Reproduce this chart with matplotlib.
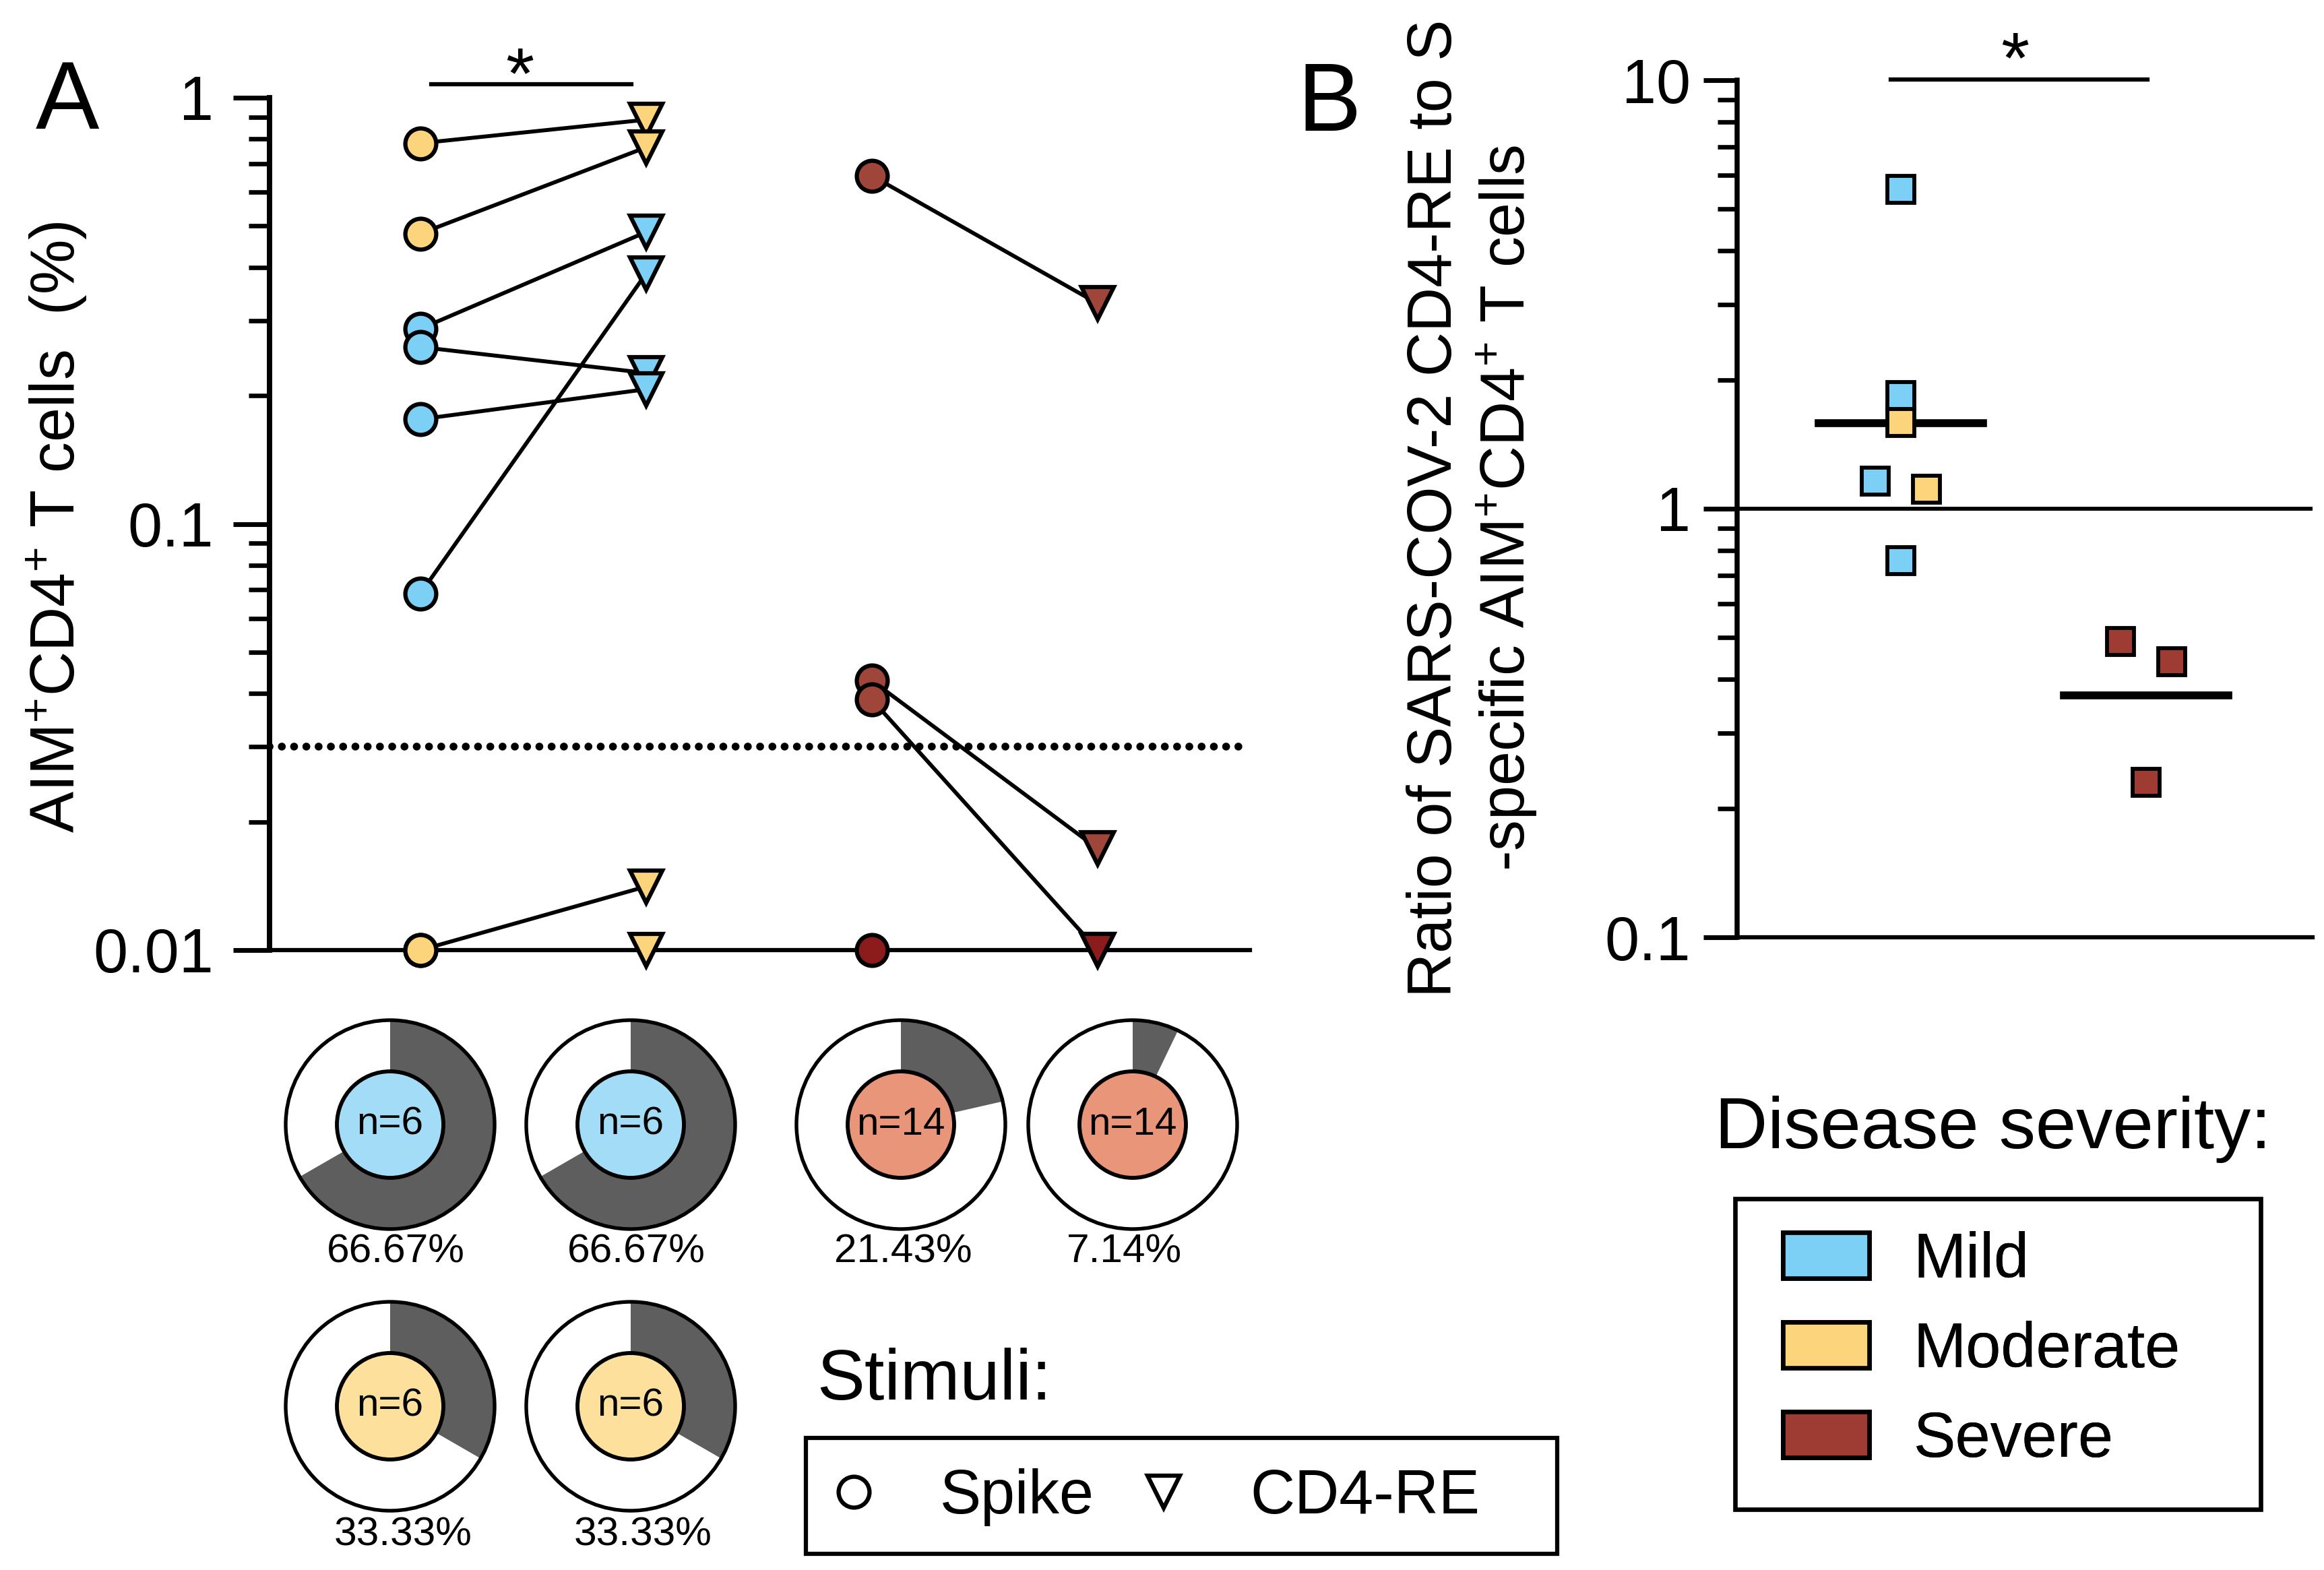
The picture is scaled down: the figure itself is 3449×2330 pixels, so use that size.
import numpy as np
import matplotlib
matplotlib.use('Agg')
import matplotlib.pyplot as plt
from matplotlib.patches import Wedge, Circle, Rectangle, Patch
from matplotlib.lines import Line2D
from matplotlib.ticker import NullFormatter, LogLocator

plt.rcParams['font.family'] = ['Liberation Sans', 'DejaVu Sans']
plt.rcParams['mathtext.fontset'] = 'custom'
plt.rcParams['mathtext.rm'] = 'Liberation Sans'
plt.rcParams['mathtext.it'] = 'Liberation Sans:italic'
plt.rcParams['mathtext.bf'] = 'Liberation Sans:bold'

# ---------------- data ----------------
stimuli = ['Spike', 'CD4-RE']
severity = ['Mild', 'Moderate', 'Severe']

# Panel A: AIM+CD4+ T cells (%), paired Spike -> CD4-RE
mild_spike = [0.287, 0.260, 0.176, 0.0687]
mild_cd4re = [0.484, 0.226, 0.207, 0.387]
mod_spike = [0.782, 0.480, 0.01, 0.01]
mod_cd4re = [0.888, 0.765, 0.0141, 0.01]
sev_spike = [0.656, 0.0429, 0.0387, 0.01]
sev_cd4re = [0.329, 0.0173, 0.01, 0.01]
detection_limit = 0.03
floor_value = 0.01

# Donut summaries (% responders)
donut_pct = [66.67, 66.67, 21.43, 7.14, 33.33, 33.33]
donut_n = [6, 6, 14, 14, 6, 6]
donut_group = ['Mild', 'Mild', 'Severe', 'Severe', 'Moderate', 'Moderate']

# Panel B: ratio CD4-RE / Spike
ratio_mild = [5.57, 1.84, 1.16, 0.757]
ratio_mod = [1.59, 1.11]
ratio_sev = [0.490, 0.440, 0.230]
jit_mild = [0.0, 0.0, -0.104, 0.0]
jit_mod = [0.0, 0.104]
jit_sev = [-0.104, 0.104, 0.0]

# ---------------- style ----------------
C_MILD = '#7DD0F5'
C_MOD = '#FCD47B'
C_SEV = '#9E3B33'
C_SEV_A = '#A0453A'
C_SEV_FLOOR = '#8C1B1B'
C_GREY = '#5E5E5E'
INNER = {'Mild': '#A3DCF6', 'Moderate': '#FDE09C', 'Severe': '#E8957A'}

W, H = 3449, 2330
fig = plt.figure(figsize=(W / 300, H / 300), dpi=300)


def fx(px):
    return px / W


def fy(py):
    return 1 - py / H


# ---------------- Panel A ----------------
axA = fig.add_axes([fx(400), fy(1410), fx(1855) - fx(400), fy(145) - fy(1410)])
axA.set_yscale('log')
axA.set_ylim(0.01, 1)
x0, unit = 624, 335
axA.set_xlim((400 - x0) / unit, (1855 - x0) / unit)

mk = dict(ls='none', mec='black', mew=1.5, zorder=4, clip_on=False)
line_kw = dict(color='black', lw=1.4, zorder=3, clip_on=False)

for s, c in zip(mild_spike, mild_cd4re):
    axA.plot([0, 1], [s, c], **line_kw)
for s, c in zip(mod_spike, mod_cd4re):
    axA.plot([0, 1], [s, c], **line_kw)
for s, c in zip(sev_spike, sev_cd4re):
    axA.plot([2, 3], [s, c], **line_kw)

axA.plot(np.zeros(len(mod_spike)), mod_spike, 'o', ms=11, mfc=C_MOD, **mk)
axA.plot(np.zeros(len(mild_spike)), mild_spike, 'o', ms=11, mfc=C_MILD, **mk)
axA.plot(np.ones(len(mod_cd4re)), mod_cd4re, 'v', ms=11.5, mfc=C_MOD, **mk)
axA.plot(np.ones(len(mild_cd4re)), mild_cd4re, 'v', ms=11.5, mfc=C_MILD, **mk)
for v in sev_spike:
    axA.plot([2], [v], 'o', ms=11, mfc=(C_SEV_FLOOR if v <= floor_value else C_SEV_A), **mk)
for v in sev_cd4re:
    axA.plot([3], [v], 'v', ms=11.5, mfc=(C_SEV_FLOOR if v <= floor_value else C_SEV_A), **mk)

axA.axhline(detection_limit, color='black', lw=2.8, ls=(0, (0.01, 1.55)),
            dash_capstyle='round', zorder=2)

for sp in ['top', 'right']:
    axA.spines[sp].set_visible(False)
axA.spines['left'].set_linewidth(1.9)
axA.spines['bottom'].set_linewidth(1.5)
axA.set_xticks([])
axA.set_yticks([0.01, 0.1, 1])
axA.set_yticklabels(['0.01', '0.1', '1'])
axA.yaxis.set_minor_locator(LogLocator(base=10, subs=np.arange(2, 10)))
axA.yaxis.set_minor_formatter(NullFormatter())
axA.tick_params(axis='y', which='major', length=13, width=1.7, labelsize=22, pad=7)
axA.tick_params(axis='y', which='minor', length=7.4, width=1.6)

# significance
axA.plot([0.048, 0.934], [1.077, 1.077], color='black', lw=1.5, clip_on=False)
axA.text(0.44, 1.0, '*', ha='center', va='baseline', fontsize=26, clip_on=False)

fig.text(fx(85), fy(782), 'AIM$^{+}$CD4$^{+}$ T cells  (%)', rotation=90,
         ha='center', va='center', fontsize=22)
fig.text(fx(100), fy(154), 'A', fontsize=34, ha='center', va='center')

# ---------------- Panel B ----------------
axB = fig.add_axes([fx(2578), fy(1391), fx(3432) - fx(2578), fy(119) - fy(1391)])
axB.set_yscale('log')
axB.set_ylim(0.1, 10)
bx0, bunit = 2821, 364
axB.set_xlim((2578 - bx0) / bunit, (3432 - bx0) / bunit)
axB.axhline(1, color='black', lw=1.4, zorder=2)

sq = dict(ls='none', marker='s', ms=9.5, mec='black', mew=1.4, zorder=4, clip_on=False)
axB.plot(np.array(jit_mild), ratio_mild, mfc=C_MILD, **sq)
axB.plot(np.array(jit_mod), ratio_mod, mfc=C_MOD, **sq)
axB.plot(1 + np.array(jit_sev), ratio_sev, mfc=C_SEV, **sq)

g1 = np.exp(np.mean(np.log(ratio_mild + ratio_mod)))
g2 = np.exp(np.mean(np.log(ratio_sev)))
axB.plot([-0.336, 0.336], [g1, g1], color='black', lw=2.8, zorder=3)
axB.plot([1 - 0.336, 1 + 0.336], [g2, g2], color='black', lw=2.8, zorder=3)

for sp in ['top', 'right']:
    axB.spines[sp].set_visible(False)
axB.spines['left'].set_linewidth(1.8)
axB.spines['bottom'].set_linewidth(1.5)
axB.set_xticks([])
axB.set_yticks([0.1, 1, 10])
axB.set_yticklabels(['0.1', '1', '10'])
axB.yaxis.set_minor_locator(LogLocator(base=10, subs=np.arange(2, 10)))
axB.yaxis.set_minor_formatter(NullFormatter())
axB.tick_params(axis='y', which='major', length=12, width=1.7, labelsize=22, pad=4.5)
axB.tick_params(axis='y', which='minor', length=7, width=1.6)

axB.plot([-0.04, 1.005], [10.04, 10.04], color='black', lw=1.5, clip_on=False)
axB.text(0.464, 9.9, '*', ha='center', va='baseline', fontsize=26, clip_on=False)

fig.text(fx(2186), fy(754),
         'Ratio of SARS-COV-2 CD4-RE to S\n-specific AIM$^{+}$CD4$^{+}$ T cells',
         rotation=90, ha='center', va='center', multialignment='center',
         fontsize=22, linespacing=1.2)
fig.text(fx(1973), fy(157), 'B', fontsize=34, ha='center', va='center')

# ---------------- overlay (donuts, legends) ----------------
axO = fig.add_axes([0, 0, 1, 1])
axO.set_xlim(0, W)
axO.set_ylim(H, 0)
axO.axis('off')

centers = [(579, 1669), (936, 1669), (1337, 1669), (1681, 1669), (579, 2087), (936, 2087)]
label_pos = [(587, 1858), (944, 1858), (1340, 1858), (1668, 1858), (598, 2278), (954, 2278)]
R_OUT, R_IN = 155, 79
for (cx, cy), (lx, ly), p, n, g in zip(centers, label_pos, donut_pct, donut_n, donut_group):
    axO.add_patch(Wedge((cx, cy), R_OUT, 0, 360, width=R_OUT - R_IN, facecolor='white',
                        edgecolor='none'))
    axO.add_patch(Wedge((cx, cy), R_OUT, 270, 270 + 360 * p / 100, width=R_OUT - R_IN,
                        facecolor=C_GREY, edgecolor='none'))
    axO.add_patch(Circle((cx, cy), R_OUT, fill=False, edgecolor='black', lw=1.3))
    axO.add_patch(Circle((cx, cy), R_IN, facecolor=INNER[g], edgecolor='black', lw=1.4))
    axO.text(cx, cy, f'n={n}', ha='center', va='center', fontsize=14)
    axO.text(lx, ly, f'{p:.2f}%', ha='center', va='center', fontsize=14.5)

# Stimuli legend
axO.text(1212, 2077, 'Stimuli:', fontsize=25.5, ha='left', va='baseline')
axO.add_patch(Rectangle((1196, 2134), 1115, 172, fill=False, edgecolor='black', lw=1.5))
stim_handles = [
    Line2D([], [], marker='o', ls='none', ms=11, mfc='white', mec='black', mew=1.5),
    Line2D([], [], marker='v', ls='none', ms=11.5, mfc='white', mec='black', mew=1.5),
]
leg1 = axO.legend(stim_handles, stimuli, loc='center left', bbox_to_anchor=(1221, 2222),
                  bbox_transform=axO.transData, ncol=2, frameon=False, fontsize=22,
                  handlelength=1.0, handletextpad=0.9, columnspacing=0.62,
                  borderpad=0, borderaxespad=0)
axO.add_artist(leg1)

# Severity legend
axO.text(2545, 1704, 'Disease severity:', fontsize=26, ha='left', va='baseline')
axO.add_patch(Rectangle((2575, 1779), 780, 461, fill=False, edgecolor='black', lw=1.6))
sev_colors = [C_MILD, C_MOD, C_SEV]
sev_handles = [Patch(facecolor=c, edgecolor='black', lw=1.6) for c in sev_colors]
leg2 = axO.legend(sev_handles, severity, loc='center left', bbox_to_anchor=(2646, 2004),
                  bbox_transform=axO.transData, frameon=False, fontsize=22.5,
                  handlelength=1.365, handleheight=0.736, handletextpad=0.7,
                  labelspacing=0.47, borderpad=0, borderaxespad=0)
axO.add_artist(leg2)

fig.savefig('out.png', dpi=300)
